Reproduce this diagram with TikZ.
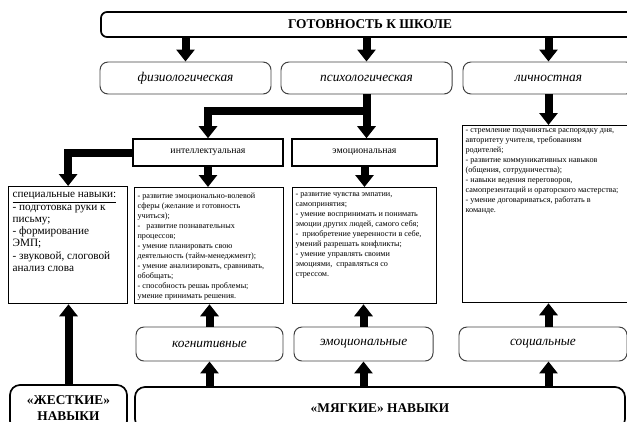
\documentclass[tikz,border=0pt]{standalone}
\usepackage{fontspec}
\setmainfont{Liberation Serif}
\usetikzlibrary{arrows.meta}

\begin{document}
\begin{tikzpicture}[x=0.25mm, y=-0.25mm,
  rbox/.style={draw=black!75, line width=0.7pt, rounded corners=2mm, minimum width=42.75mm, minimum height=8mm, font=\fontsize{9.5}{11}\selectfont\itshape},
  sbox/.style={draw, line width=1.1pt, minimum height=6.75mm, font=\fontsize{7}{8}\selectfont},
  tbox/.style={draw, line width=0.9pt, inner sep=0.75mm, anchor=north west, font=\fontsize{5.8}{7.1}\selectfont},
  bigbox/.style={draw, line width=1.2pt, rounded corners=2.5mm, align=center, font=\fontsize{9.5}{11}\selectfont\bfseries},
  arr/.style={line width=2mm, line join=miter, -{Triangle[width=4.5mm,length=3mm]}}]
\useasboundingbox (0,0) rectangle (627,421);
\clip (0,0) rectangle (627,421);

% top level
\node[bigbox, rounded corners=1.5mm, minimum width=134.5mm, minimum height=6.25mm] (title) at (370,24.5) {ГОТОВНОСТЬ К ШКОЛЕ};
\node[rbox] (fiz) at (185.5,78) {физиологическая};
\node[rbox] (psych) at (366.5,78) {психологическая};
\node[rbox] (lich) at (548.5,78) {личностная};

\node[sbox, minimum width=37.5mm] (intel) at (208,152.5) {интеллектуальная};
\node[sbox, minimum width=36.25mm] (emot) at (364.5,152.5) {эмоциональная};

% text boxes
\node[tbox, inner xsep=1mm, inner ysep=1.5mm, font=\fontsize{8}{8.7}\selectfont] (special) at (8,186) {\parbox[t][26.25mm][t]{27.75mm}{\underline{специальные навыки:}\\
- подготовка руки к\\ письму;\\
- формирование\\ ЭМП;\\
- звуковой, слоговой\\ анализ слова}};
\node[tbox, inner ysep=1.25mm] (cogtext) at (134,187) {\parbox[t][26.5mm][t]{35.75mm}{- развитие эмоционально-волевой\\ сферы (желание и готовность\\ учиться);\\
-\ \ \ развитие познавательных\\ процессов;\\
- умение планировать свою\\ деятельность (тайм-менеджмент);\\
- умение анализировать, сравнивать,\\ обобщать;\\
- способность решаь проблемы;\\ умение принимать решения.}};
\node[tbox, inner ysep=1.25mm] (emotext) at (292,187) {\parbox[t][26.5mm][t]{34.5mm}{- развитие чувства эмпатии,\\ самопринятия;\\
- умение воспринимать и понимать\\ эмоции других людей, самого себя;\\
-\ \ приобретение уверенности в себе,\\ умений разрешать конфликты;\\
- умение управлять своими\\ эмоциями,\ \ справляться со\\ стрессом.}};
\node[tbox] (pers) at (462,125) {\parbox[t][42.75mm][t]{43mm}{- стремление подчиняться распорядку дня,\\ авторитету учителя, требованиям\\ родителей;\\
- развитие коммуникативных навыков\\ (общения, сотрудничества);\\
- навыки ведения переговоров,\\ самопрезентаций и ораторского мастерства;\\
- умение договариваться, работать в\\ команде.}};

% bottom level
\node[rbox, minimum width=36.75mm, minimum height=8.5mm] (cog) at (209.5,344) {когнитивные};
\node[rbox, minimum width=34.75mm, minimum height=8.5mm] (emo) at (363.5,344) {эмоциональные};
\node[rbox, minimum width=42mm, minimum height=8.5mm] (soc) at (543,344) {социальные};
\node[bigbox, minimum width=29.25mm, minimum height=11.5mm] (hard) at (68.5,408) {«ЖЕСТКИЕ»\\НАВЫКИ};
\node[bigbox, minimum width=122.5mm, minimum height=10.5mm] (soft) at (380,408) {«МЯГКИЕ» НАВЫКИ};

% arrows
\draw[arr] (title.south -| fiz.north) -- (fiz.north);
\draw[arr] (title.south -| psych.north) -- (psych.north);
\draw[arr] (title.south -| lich.north) -- (lich.north);
\draw[arr] (psych.south) -- ++(0,17) -| (intel.north);
\draw[arr] (psych.south) -- (psych.south |- emot.north);
\draw[arr] (lich.south) -- (lich.south |- pers.north);
\draw[arr] (intel.west) -| (special.north);
\draw[arr] (intel.south) -- (intel.south |- cogtext.north);
\draw[arr] (emot.south) -- (emot.south |- emotext.north);
\draw[arr] (cog.north) -- (cog.north |- cogtext.south);
\draw[arr] (emo.north) -- (emo.north |- emotext.south);
\draw[arr] (lich.south |- soc.north) -- (lich.south |- pers.south);
\draw[arr] (soft.north -| cog.south) -- (cog.south);
\draw[arr] (soft.north -| emo.south) -- (emo.south);
\draw[arr] (soft.north -| lich.south) -- (lich.south |- soc.south);
\draw[arr] (hard.north) -- (hard.north |- special.south);
\end{tikzpicture}
\end{document}
